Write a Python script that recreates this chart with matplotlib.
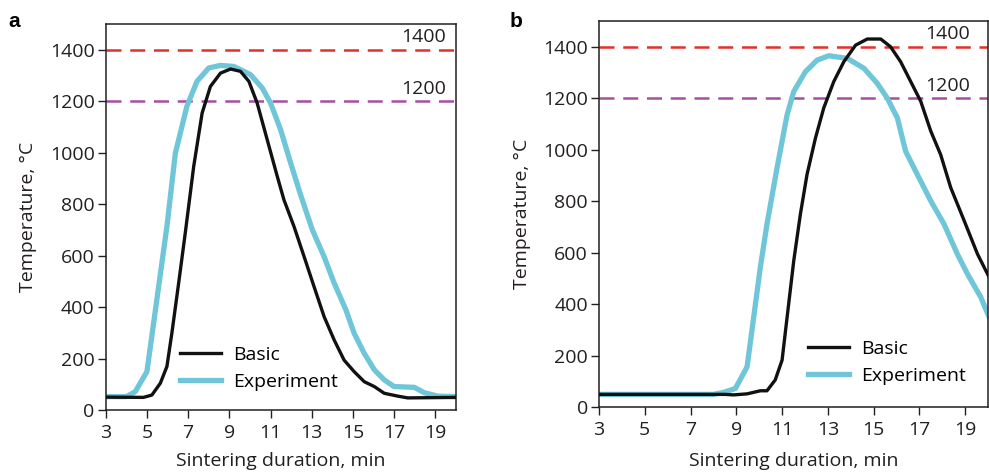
import matplotlib
matplotlib.use("Agg")
import matplotlib.pyplot as plt

plt.rcParams['font.family'] = ['Open Sans', 'DejaVu Sans']

# panel a
a_exp_x = [3, 4.0, 4.43, 5.0, 5.48, 5.97, 6.38, 6.94, 7.43, 8.0, 8.57, 9.22, 10.03, 10.6, 11.0,
           11.49, 11.98, 12.46, 13.03, 13.6, 14.09, 14.66, 15.06, 15.55, 16.04, 16.52, 17.0,
           17.98, 18.47, 19.12, 20]
a_exp_y = [52, 52, 71, 149, 428, 713, 998, 1180, 1277, 1329, 1339, 1335, 1303, 1251, 1193,
           1089, 959, 836, 700, 596, 493, 389, 298, 220, 156, 117, 91,
           88, 67, 54, 52]
a_bas_x = [3, 4.83, 5.24, 5.65, 5.97, 6.21, 6.54, 6.86, 7.27, 7.68, 8.08, 8.57, 9.06, 9.54,
           9.95, 10.35, 10.84, 11.33, 11.65, 12.14, 12.63, 13.11, 13.6, 14.09, 14.57, 15.06,
           15.55, 16.04, 16.52, 17.17, 17.66, 20]
a_bas_y = [50, 49, 58, 104, 169, 298, 493, 687, 946, 1154, 1257, 1309, 1325, 1316,
           1277, 1193, 1050, 907, 817, 713, 596, 480, 363, 272, 194, 149,
           110, 91, 65, 54, 47, 49]

# panel b
b_exp_x = [3, 8.0, 8.45, 8.96, 9.47, 9.76, 10.05, 10.34, 10.78, 11.22, 11.51, 12.02, 12.53,
           13.04, 13.85, 14.58, 15.16, 15.6, 16.04, 16.4, 16.91, 17.5, 18.08, 18.66, 19.1,
           19.68, 20.05]
b_exp_y = [50, 50, 58, 73, 157, 350, 544, 711, 930, 1136, 1226, 1303, 1348,
           1365, 1355, 1316, 1258, 1200, 1123, 994, 904, 801, 711, 595, 518,
           428, 350]
b_bas_x = [3, 8.5, 8.88, 9.47, 10.05, 10.34, 10.7, 11.0, 11.22, 11.51, 11.8, 12.09, 12.46,
           12.82, 13.26, 13.7, 14.21, 14.72, 15.31, 15.74, 16.18, 16.62, 17.06, 17.5, 17.93,
           18.37, 18.96, 19.54, 20.05]
b_bas_y = [50, 50, 48, 52, 64, 64, 106, 183, 350, 569, 750, 904, 1046,
           1162, 1265, 1342, 1406, 1430, 1430, 1400, 1342, 1265, 1188, 1072, 981,
           853, 724, 595, 505]

x_ticks = [3, 5, 7, 9, 11, 13, 15, 17, 19]
y_ticks = [0, 200, 400, 600, 800, 1000, 1200, 1400]
levels = [1400, 1200]
level_colors = ['#e2312b', '#a64ea3']

dark = '#231f20'
cyan = '#6fc6d8'

fig = plt.figure(figsize=(9.89, 4.73), dpi=100)
ax_a = fig.add_axes([0.1069, 0.1332, 0.3541, 0.8161])
ax_b = fig.add_axes([0.6057, 0.1390, 0.3933, 0.8166])


def draw(ax, bx, by, ex, ey, label_x, leg_anchor, xpad):
    for lv, col in zip(levels, level_colors):
        ax.axhline(lv, color=col, lw=1.8, dashes=(6, 3.5), zorder=1)
        ax.text(label_x, lv + 14, str(lv), ha='right', va='bottom', fontsize=14, color=dark)
    ax.plot(bx, by, color='#111111', lw=2.4, label='Basic', zorder=3)
    ax.plot(ex, ey, color=cyan, lw=3.8, label='Experiment', zorder=2)
    ax.set_xlim(3, 20)
    ax.set_ylim(0, 1500)
    ax.set_xticks(x_ticks)
    ax.set_yticks(y_ticks)
    ax.tick_params(direction='out', length=6, width=1, colors=dark, labelsize=14, pad=2)
    ax.tick_params(axis='x', pad=4)
    for s in ax.spines.values():
        s.set_linewidth(1.1)
        s.set_color(dark)
    ax.set_xlabel('Sintering duration, min', fontsize=14, color=dark, labelpad=xpad)
    ax.set_ylabel('Temperature, \u00b0C', fontsize=14, color=dark, labelpad=9)
    ax.legend(loc='lower left', bbox_to_anchor=leg_anchor, frameon=False, fontsize=14,
              handlelength=2.1, handletextpad=0.65, labelspacing=0.45,
              borderaxespad=0, borderpad=0)


draw(ax_a, a_bas_x, a_bas_y, a_exp_x, a_exp_y, 19.5, (0.212, 0.05), 7)
draw(ax_b, b_bas_x, b_bas_y, b_exp_x, b_exp_y, 19.2, (0.537, 0.058), 9)

fig.text(0.008, 0.955, 'a', fontsize=15, fontweight='bold', color='black', va='center',
         family=['Liberation Sans', 'DejaVu Sans'])
fig.text(0.515, 0.955, 'b', fontsize=15, fontweight='bold', color='black', va='center',
         family=['Liberation Sans', 'DejaVu Sans'])

fig.savefig('out.png', dpi=100)
